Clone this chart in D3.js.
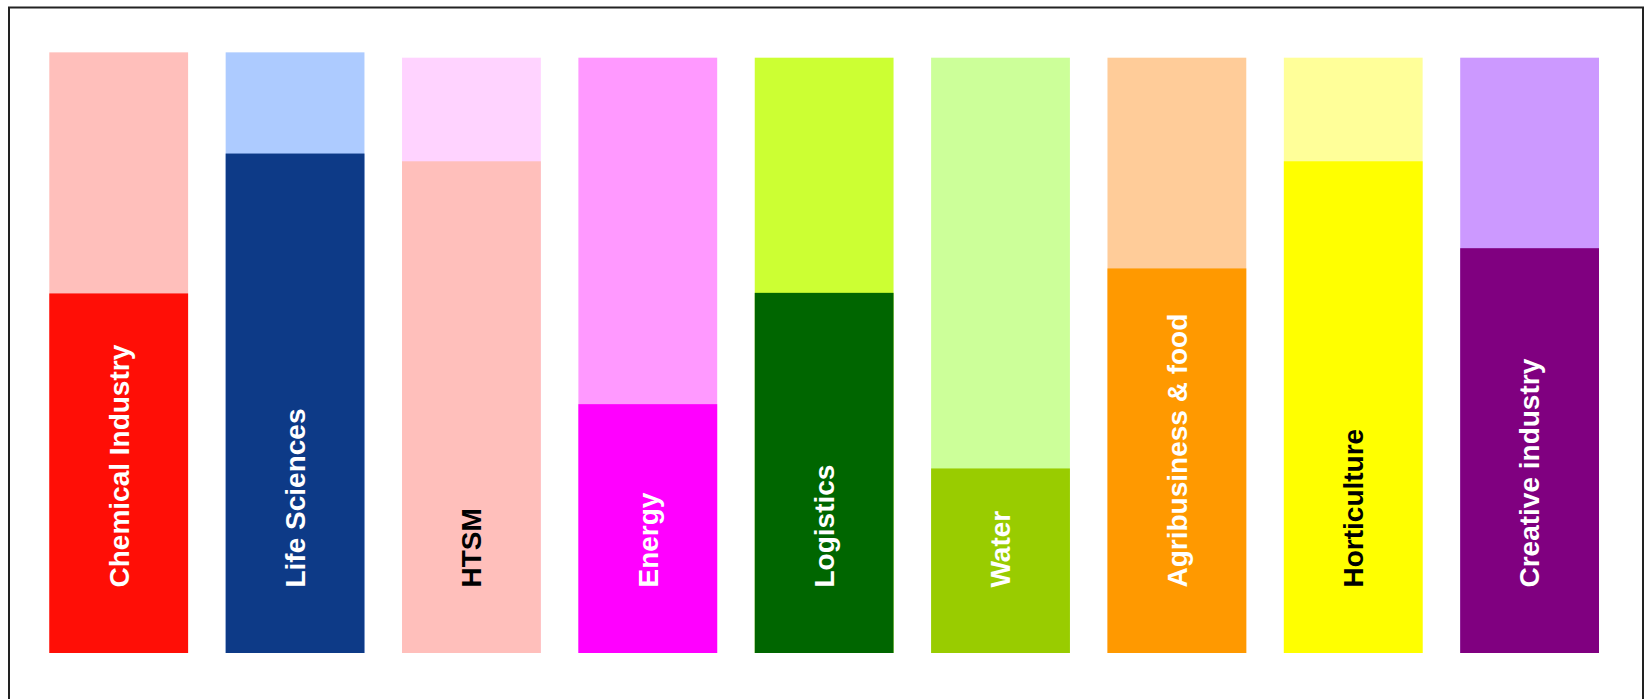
<html>

<head>
<style>
  body { margin: 0; background: #fff; }
  text { font-family: "Liberation Sans", Arial, sans-serif; font-weight: bold; }
</style>
</head>

<body>
    <svg id="container" height="699" width="1646">
        <g id="body"></g>
    </svg>
</body>
<script src="https://cdn.jsdelivr.net/npm/d3@7"></script>
<script>
    // data
    let sectors = ["Chemical Industry", "Life Sciences", "HTSM", "Energy", "Logistics",
                   "Water", "Agribusiness & food", "Horticulture", "Creative industry"]
    let totals = [100.9, 100.9, 100, 100, 100, 100, 100, 100, 100]
    let shares = [60.4, 83.9, 82.6, 41.8, 60.5, 31.0, 64.6, 82.6, 68.0]

    // styles
    let lightColors = ["#ffbfbb", "#adcbff", "#ffd3ff", "#ff99ff", "#ccff33",
                       "#ccff99", "#ffcc99", "#ffff99", "#cc99ff"]
    let darkColors = ["#ff0e06", "#0d3a87", "#ffbfbb", "#ff00ff", "#006600",
                      "#99cc00", "#ff9900", "#ffff00", "#800080"]
    let textColors = ["#fff", "#fff", "#000", "#fff", "#fff", "#fff", "#fff", "#000", "#fff"]

    let svg = d3.select("#container")
    let body = d3.select("#body")

    // frame
    svg.insert("rect", "#body")
        .attr("x", 9)
        .attr("y", 7.5)
        .attr("width", 1634)
        .attr("height", 720)
        .attr("fill", "none")
        .attr("stroke", "#222")
        .attr("stroke-width", 2)

    let xScale = d3.scaleBand()
        .domain(sectors)
        .range([49.3, 1599])
        .paddingInner(0.213)
        .paddingOuter(0)

    let yScale = d3.scaleLinear()
        .domain([0, 100])
        .range([653, 57.7])

    let data = sectors.map((s, i) => ({
        name: s, total: totals[i], share: shares[i],
        light: lightColors[i], dark: darkColors[i], text: textColors[i]
    }))

    body.selectAll("rect.light")
        .data(data)
        .enter().append("rect")
        .attr("class", "light")
        .attr("x", d => xScale(d.name))
        .attr("width", xScale.bandwidth())
        .attr("y", d => yScale(d.total))
        .attr("height", d => yScale(0) - yScale(d.total))
        .attr("fill", d => d.light)

    body.selectAll("rect.dark")
        .data(data)
        .enter().append("rect")
        .attr("class", "dark")
        .attr("x", d => xScale(d.name))
        .attr("width", xScale.bandwidth())
        .attr("y", d => yScale(d.share))
        .attr("height", d => yScale(0) - yScale(d.share))
        .attr("fill", d => d.dark)

    let labelBase = yScale(11)

    body.selectAll("text.label")
        .data(data)
        .enter().append("text")
        .attr("class", "label")
        .attr("transform", d => "translate(" + (xScale(d.name) + xScale.bandwidth() / 2) + "," + labelBase + ") rotate(-90)")
        .attr("dy", "0.35em")
        .attr("font-size", 28)
        .attr("fill", d => d.text)
        .text(d => d.name)

</script>

</html>
